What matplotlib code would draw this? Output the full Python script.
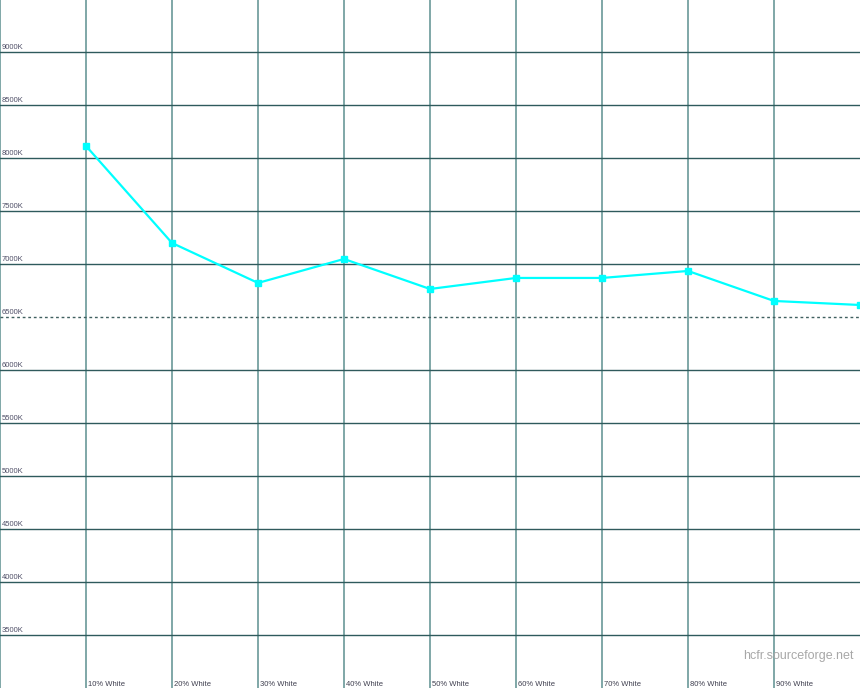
import matplotlib
matplotlib.use("Agg")
import matplotlib.pyplot as plt

categories = ["10% White", "20% White", "30% White", "40% White", "50% White",
              "60% White", "70% White", "80% White", "90% White", "100% White"]
temps = [8113, 7198, 6821, 7047, 6764, 6868, 6868, 6934, 6651, 6613]
y_ticks = [3500, 4000, 4500, 5000, 5500, 6000, 6500, 7000, 7500, 8000, 8500, 9000]
y_labels = ["%dK" % v for v in y_ticks]
reference = 6500

fig = plt.figure(figsize=(8.6, 6.88), dpi=100)
ax = fig.add_axes([0, 0, 1, 1])
ax.set_xlim(0, 10)
ax.set_ylim(3000, 9490)
ax.axis("off")

for i in range(len(categories)):
    ax.axvline(i, color="#6a9898", lw=1.2, zorder=1)
for v, lab in zip(y_ticks, y_labels):
    if v == reference:
        ax.axhline(v, color="#406060", lw=1.0, ls=(0, (2, 2)), zorder=1)
    else:
        ax.axhline(v, color="#2f5a5c", lw=1.0, zorder=1)
    ax.text(0.02, v + 10, lab, fontsize=5.5, color="#505068", family="Liberation Sans",
            ha="left", va="bottom")

x = list(range(1, len(temps) + 1))
ax.plot(x, temps, color="#00ffff", lw=1.6, marker="s", markersize=4.5, zorder=3,
        clip_on=False)

# the last category sits on the right edge; its label falls outside the picture
for i, lab in enumerate(categories[:-1]):
    ax.text(i + 1 + 0.02, 3000 + 2, lab, fontsize=5.5, color="#404050",
            family="Liberation Sans", ha="left", va="bottom")

ax.text(0.993, 0.038, "hcfr.sourceforge.net", transform=ax.transAxes, fontsize=9,
        color="#a8a8a8", family="Liberation Sans", ha="right", va="bottom")

fig.savefig("out.png", dpi=100, facecolor="white")
